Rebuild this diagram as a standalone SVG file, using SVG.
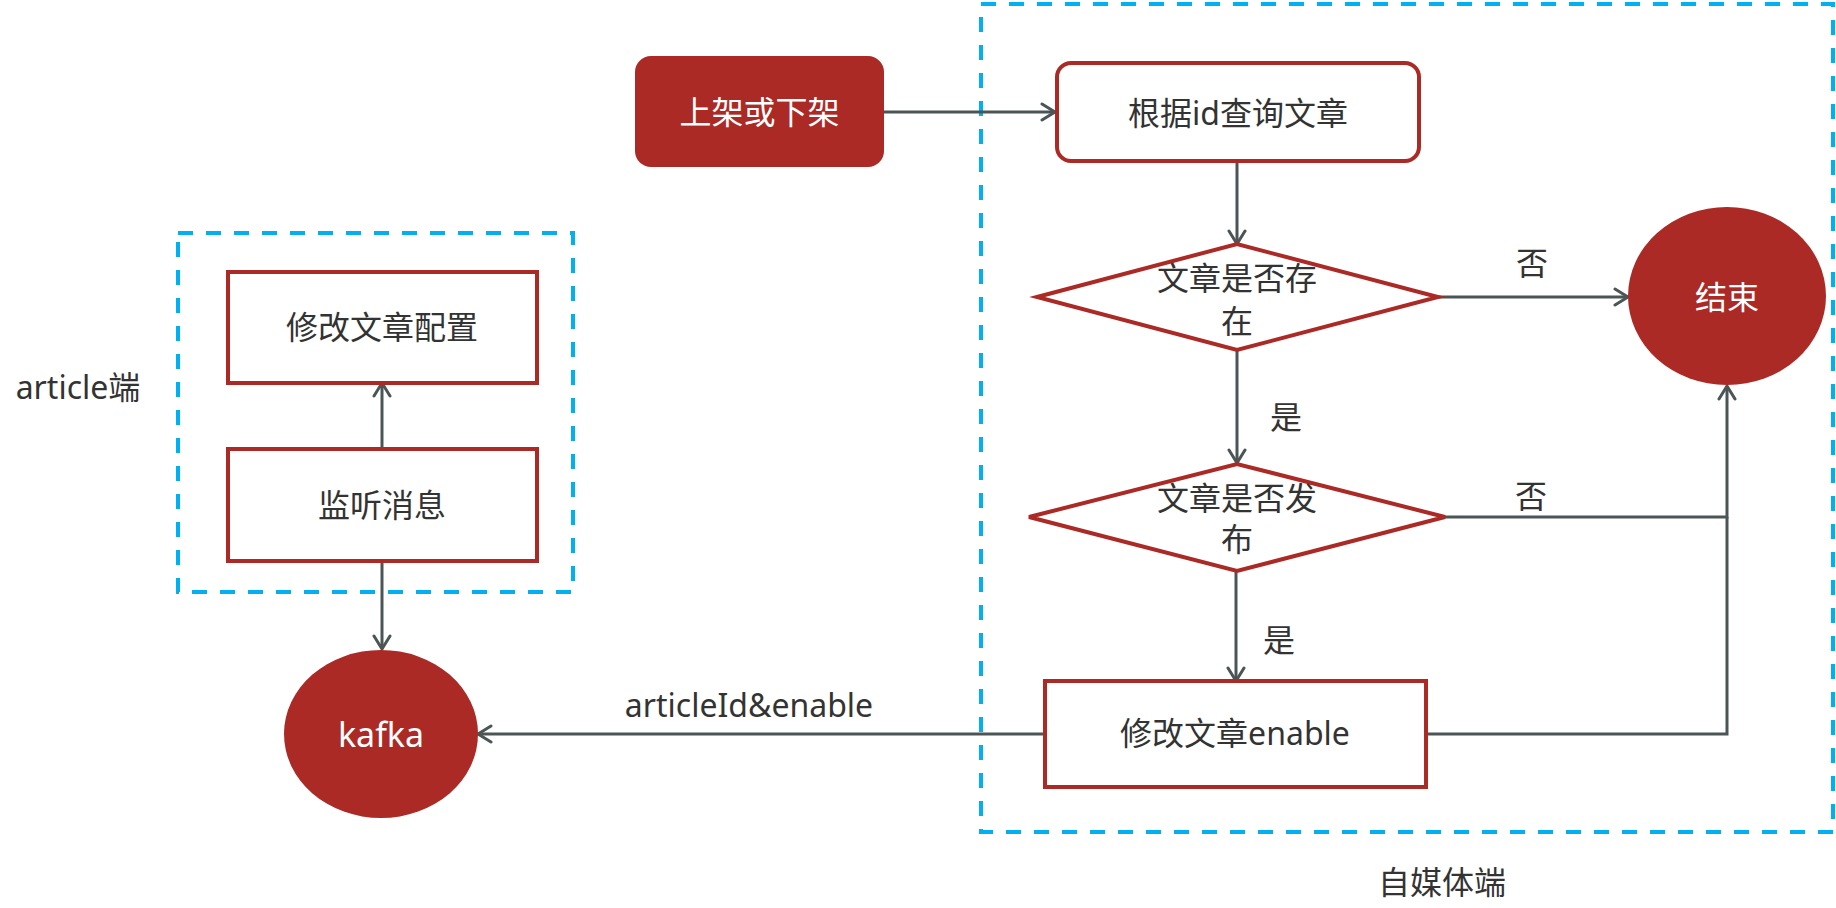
<svg xmlns="http://www.w3.org/2000/svg" width="1836" height="908" viewBox="0 0 1836 908">
<style>
text{font-family:"Noto Sans","Noto Sans CJK SC",sans-serif;font-size:32px;fill:#333;text-anchor:middle;dominant-baseline:central}
.w{fill:#fff}
.box{fill:#fff;stroke:#AB2A26;stroke-width:4}
.solid{fill:#AB2A26;stroke:none}
.dash{fill:none;stroke:#00B0F0;stroke-width:4;stroke-dasharray:15 13}
.conn{fill:none;stroke:#4B5555;stroke-width:3}
</style>
<defs>
<marker id="arr" viewBox="-16 -11 18 22" refX="0" refY="0" markerWidth="18" markerHeight="22" markerUnits="userSpaceOnUse" orient="auto">
<path d="M-13,-8 L0,0 L-13,8" fill="none" stroke="#4B5555" stroke-width="3" stroke-linecap="round" stroke-linejoin="round"/>
</marker>
</defs>
<rect width="1836" height="908" fill="#fff"/>
<g id="containers">
<rect class="dash" x="981" y="4" width="852" height="828"/>
<rect class="dash" x="178" y="233" width="395" height="359"/>
<text x="78" y="386">article端</text>
<text x="1442" y="881">自媒体端</text>
</g>
<g id="connectors">
<path class="conn" d="M884,112 H1055" marker-end="url(#arr)"/>
<path class="conn" d="M1237,161 V244" marker-end="url(#arr)"/>
<path class="conn" d="M1438,297 H1628" marker-end="url(#arr)"/>
<path class="conn" d="M1237,350 V463" marker-end="url(#arr)"/>
<path class="conn" d="M1445,517 H1727 V386" marker-end="url(#arr)"/>
<path class="conn" d="M1426,734 H1727 V517"/>
<path class="conn" d="M1236,571 V681" marker-end="url(#arr)"/>
<path class="conn" d="M1045,734 H478" marker-end="url(#arr)"/>
<path class="conn" d="M382,561 V649" marker-end="url(#arr)"/>
<path class="conn" d="M382,449 V383" marker-end="url(#arr)"/>
<text x="1532" y="262">否</text>
<text x="1531" y="495">否</text>
<text x="1286" y="416">是</text>
<text x="1279" y="639">是</text>
<text x="749" y="704">articleId&amp;enable</text>
</g>
<g id="start">
<rect class="solid" x="635" y="56" width="249" height="111" rx="16"/>
<text class="w" x="759.5" y="111">上架或下架</text>
</g>
<g id="query">
<rect class="box" x="1057" y="63" width="362" height="98" rx="14"/>
<text x="1238" y="112">根据id查询文章</text>
</g>
<g id="exists">
<polygon class="box" points="1037,297 1237,244 1438,297 1237,350"/>
<text x="1237" y="277">文章是否存</text>
<text x="1237" y="320">在</text>
</g>
<g id="published">
<polygon class="box" points="1029,517 1237,464 1445,517 1237,571"/>
<text x="1237" y="497">文章是否发</text>
<text x="1237" y="538">布</text>
</g>
<g id="end">
<ellipse class="solid" cx="1727" cy="296" rx="99" ry="89"/>
<text class="w" x="1727" y="296">结束</text>
</g>
<g id="modifyEnable">
<rect class="box" x="1045" y="681" width="381" height="106"/>
<text x="1235" y="732">修改文章enable</text>
</g>
<g id="kafka">
<ellipse class="solid" cx="381" cy="734" rx="97" ry="84"/>
<text class="w" x="381" y="734" style="font-size:34px">kafka</text>
</g>
<g id="modifyConfig">
<rect class="box" x="228" y="272" width="309" height="111"/>
<text x="382" y="326">修改文章配置</text>
</g>
<g id="listen">
<rect class="box" x="228" y="449" width="309" height="112"/>
<text x="382" y="504">监听消息</text>
</g>
</svg>
